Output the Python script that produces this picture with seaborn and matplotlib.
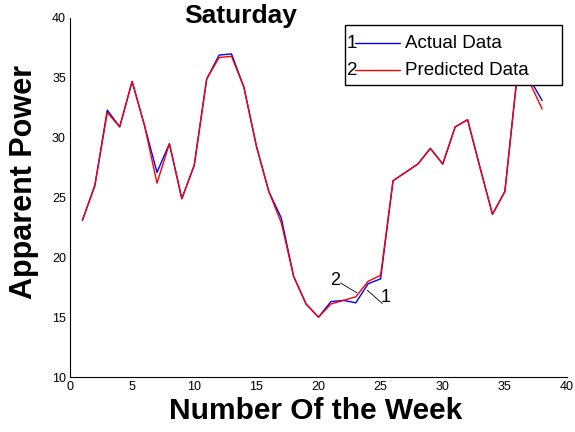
import matplotlib
matplotlib.use("Agg")
import matplotlib.pyplot as plt
from matplotlib.patches import Rectangle
import seaborn as sns
import pandas as pd

weeks = list(range(1, 39))
actual = [23.1, 26.0, 32.3, 30.9, 34.7, 31.0, 27.1, 29.5, 24.9, 27.7,
          34.9, 36.9, 37.0, 34.2, 29.3, 25.5, 23.3, 18.4, 16.1, 15.0,
          16.3, 16.4, 16.2, 17.8, 18.2, 26.4, 27.1, 27.8, 29.1, 27.8,
          30.9, 31.5, 27.5, 23.6, 25.5, 35.3, 34.9, 33.1]
predicted = [23.1, 26.0, 32.1, 30.9, 34.7, 31.0, 26.2, 29.5, 24.9, 27.7,
             34.9, 36.7, 36.8, 34.2, 29.3, 25.5, 22.9, 18.4, 16.1, 15.0,
             16.1, 16.4, 16.7, 18.0, 18.5, 26.4, 27.1, 27.8, 29.1, 27.8,
             30.9, 31.5, 27.5, 23.6, 25.5, 35.3, 34.6, 32.4]
series_names = ["Actual Data", "Predicted Data"]
series_numbers = ["1", "2"]
series_colors = ["#0000ff", "#ff0000"]
x_ticks = [0, 5, 10, 15, 20, 25, 30, 35, 40]
y_ticks = [10, 15, 20, 25, 30, 35, 40]

df = pd.DataFrame({
    "week": weeks * 2,
    "power": actual + predicted,
    "series": [series_names[0]] * len(weeks) + [series_names[1]] * len(weeks),
})

sns.set_style("white")
plt.rcParams["font.family"] = ["Liberation Sans", "DejaVu Sans"]
plt.rcParams["text.color"] = "black"
plt.rcParams["axes.labelcolor"] = "black"

fig = plt.figure(figsize=(5.75, 4.32), dpi=100)
ax = fig.add_axes([70 / 575, 1 - 377 / 432, 497 / 575, 359 / 432])

sns.lineplot(data=df, x="week", y="power", hue="series",
             palette=dict(zip(series_names, series_colors)),
             linewidth=1.0, ax=ax, legend=False)

ax.set_xlim(0, 40)
ax.set_ylim(10, 40)
ax.set_xticks(x_ticks)
ax.set_yticks(y_ticks)
ax.tick_params(direction="in", length=4, width=0.8, labelsize=9,
               colors="black", pad=3)
for s in ["top", "right"]:
    ax.spines[s].set_visible(False)
for s in ["left", "bottom"]:
    ax.spines[s].set_color("black")
    ax.spines[s].set_linewidth(0.8)

ax.set_xlabel("Number Of the Week", fontsize=21.5, fontweight="bold", va="center")
ax.xaxis.set_label_coords((316 - 70) / 497, (377 - 411) / 359)
ax.set_ylabel("Apparent Power", fontsize=22, fontweight="bold", va="center")
ax.yaxis.set_label_coords((24 - 70) / 497, (377 - 182) / 359)

fig.text(241 / 575, 1 - 23 / 432, "Saturday", fontsize=19, fontweight="bold",
         ha="center", va="baseline")

# MATLAB-style legend box with numbered entries (axes fraction coordinates)
def fx(px):
    return (px - 70) / 497

def fy(py):
    return (377 - py) / 359

ax.add_patch(Rectangle((fx(345), fy(85)), fx(562) - fx(345), fy(25) - fy(85),
                       transform=ax.transAxes, facecolor="white",
                       edgecolor="black", linewidth=1.0, zorder=5))
for num, name, color, py in zip(series_numbers, series_names, series_colors, [43, 70]):
    ax.text(fx(352), fy(py), num, transform=ax.transAxes, fontsize=13.5,
            ha="center", va="center", zorder=6)
    ax.plot([fx(355), fx(400)], [fy(py), fy(py)], transform=ax.transAxes,
            color=color, linewidth=1.0, zorder=6)
    ax.text(fx(405), fy(py), name, transform=ax.transAxes, fontsize=13.5,
            ha="left", va="center", zorder=6)

# in-plot numbered annotations
ax.annotate("", xy=(23.1, 17.03), xytext=(21.77, 17.86),
            arrowprops=dict(arrowstyle="-", color="black", lw=0.6,
                            shrinkA=0, shrinkB=0))
ax.text(21.37, 18.08, "2", fontsize=13, ha="center", va="center")
ax.annotate("", xy=(25.14, 16.14), xytext=(23.93, 17.25),
            arrowprops=dict(arrowstyle="-", color="black", lw=0.6,
                            shrinkA=0, shrinkB=0))
ax.text(25.4, 16.67, "1", fontsize=13, ha="center", va="center")

fig.savefig("out.png", dpi=100)
